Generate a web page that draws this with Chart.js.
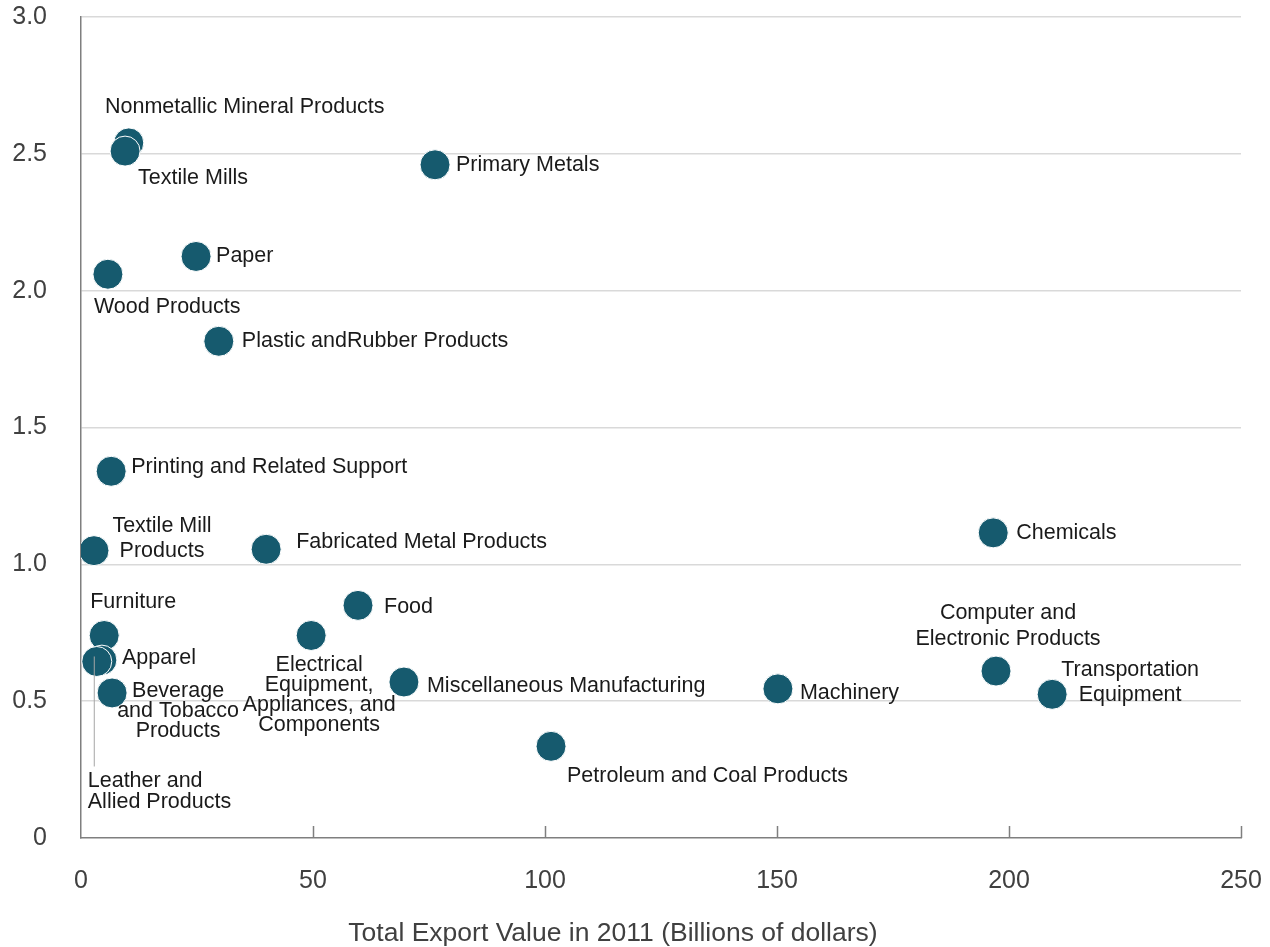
<!DOCTYPE html>
<html>
<head>
<meta charset="utf-8">
<script src="https://cdn.jsdelivr.net/npm/chart.js@4.4.0/dist/chart.umd.min.js"></script>
<style>
  html, body { margin: 0; padding: 0; background: #fff; }
  #wrap { width: 1270px; height: 947px; }
</style>
</head>
<body>
<div id="wrap"><canvas id="scatter"></canvas></div>
<script>
// industry names ("\n" = line break in the label)
const categories = [
  "Nonmetallic Mineral Products", "Textile Mills", "Primary Metals", "Paper",
  "Wood Products", "Plastic andRubber Products", "Printing and Related Support",
  "Textile Mill\nProducts", "Fabricated Metal Products", "Chemicals", "Food",
  "Furniture", "Electrical\nEquipment,\nAppliances, and\nComponents", "Apparel",
  "Leather and\nAllied Products", "Beverage\nand Tobacco\nProducts",
  "Miscellaneous Manufacturing", "Petroleum and Coal Products", "Machinery",
  "Computer and\nElectronic Products", "Transportation\nEquipment"
];
// total export value 2011, billions of dollars
const exportValues = [10.3, 9.5, 76.3, 24.8, 5.8, 29.7, 6.5, 2.8, 39.9, 196.6, 59.7,
  5.0, 49.6, 4.5, 3.4, 6.7, 69.6, 101.3, 150.2, 197.2, 209.3];
const ratioValues = [2.54, 2.51, 2.46, 2.125, 2.06, 1.815, 1.34, 1.05, 1.055, 1.115, 0.85,
  0.74, 0.74, 0.65, 0.645, 0.53, 0.57, 0.335, 0.545, 0.61, 0.525];
const xTicks = [0, 50, 100, 150, 200, 250];
const yTicks = [0, 0.5, 1.0, 1.5, 2.0, 2.5, 3.0];
const xTitle = 'Total Export Value in 2011 (Billions of dollars)';

// label placement relative to each marker: [dx, dy of first line, align, line height]
const labelLayout = [
  [116, -36, "center", 21], [13, 27, "left", 21], [21, 0, "left", 21], [20, 0, "left", 21],
  [-14, 33, "left", 21], [23, 0, "left", 21], [20, -4, "left", 21],
  [68, -25, "center", 25], [30, -7, "left", 21], [23, 0, "left", 21], [26, 2, "left", 21],
  [29, -33, "center", 21], [8, 30, "center", 20], [20, -2, "left", 21],
  [-9, 120, "left", 21], [66, -2, "center", 20],
  [23, 4, "left", 21], [16, 30, "left", 21], [22, 4, "left", 21],
  [12, -58, "center", 26], [78, -24, "center", 25]
];
const LEATHER = 14;

const points = exportValues.map((x, i) => ({ x: x, y: ratioValues[i] }));

const labelPlugin = {
  id: 'pointLabels',
  afterDatasetsDraw(chart) {
    const ctx = chart.ctx;
    const meta = chart.getDatasetMeta(0);
    const xs = chart.scales.x, area = chart.chartArea;
    ctx.save();
    // small tick marks standing on the x axis
    ctx.strokeStyle = '#7f7f7f';
    ctx.lineWidth = 1.5;
    xTicks.slice(1).forEach(v => {
      const px = Math.round(xs.getPixelForValue(v)) + 0.5;
      ctx.beginPath();
      ctx.moveTo(px, area.bottom);
      ctx.lineTo(px, area.bottom - 12);
      ctx.stroke();
    });
    // leader line for the leather label
    const lp = meta.data[LEATHER];
    ctx.strokeStyle = '#a6a6a6';
    ctx.lineWidth = 1;
    ctx.beginPath();
    ctx.moveTo(lp.x - 2.5, lp.y - 5);
    ctx.lineTo(lp.x - 2.5, lp.y + 105);
    ctx.stroke();

    ctx.font = '21.5px "Liberation Sans", Arial, sans-serif';
    ctx.fillStyle = '#1a1a1a';
    ctx.textBaseline = 'middle';
    categories.forEach((name, i) => {
      const el = meta.data[i];
      const [dx, dy, align, lh] = labelLayout[i];
      ctx.textAlign = align;
      name.split('\n').forEach((line, k) => {
        ctx.fillText(line, el.x + dx, el.y + dy + k * lh);
      });
    });

    // axis title sits left of the plot centre in the original
    ctx.font = '26.5px "Liberation Sans", Arial, sans-serif';
    ctx.fillStyle = '#404040';
    ctx.textAlign = 'center';
    ctx.fillText(xTitle, 613, area.bottom + 96);
    ctx.restore();
  }
};

new Chart(document.getElementById('scatter'), {
  type: 'scatter',
  data: {
    datasets: [{
      label: 'Industries',
      data: points,
      backgroundColor: '#165a6e',
      borderColor: '#ffffff',
      borderWidth: 1,
      pointRadius: 15,
      pointHoverRadius: 15
    }]
  },
  plugins: [labelPlugin],
  options: {
    responsive: true,
    maintainAspectRatio: false,
    animation: false,
    layout: { autoPadding: false, padding: { top: 17, right: 29, left: 0, bottom: 0 } },
    plugins: {
      legend: { display: false },
      tooltip: { enabled: false }
    },
    scales: {
      x: {
        type: 'linear',
        min: 0,
        max: 250,
        afterBuildTicks: s => { s.ticks = xTicks.map(v => ({ value: v })); },
        afterFit: s => { s.height = 109; s.paddingLeft = 0; s.paddingRight = 0; },
        grid: { display: false, drawTicks: false },
        border: { display: true, color: '#7f7f7f', width: 1.5 },
        ticks: {
          padding: 28,
          color: '#404040',
          font: { family: '"Liberation Sans", Arial, sans-serif', size: 25 }
        },
        title: { display: false }
      },
      y: {
        min: 0,
        max: 3,
        afterBuildTicks: s => { s.ticks = yTicks.map(v => ({ value: v })); },
        afterFit: s => { s.width = 81; s.paddingTop = 0; s.paddingBottom = 0; },
        grid: {
          color: ctx => ctx.tick && ctx.tick.value === 0 ? 'rgba(0,0,0,0)' : '#d9d9d9',
          lineWidth: 1.5,
          drawTicks: false
        },
        border: { display: true, color: '#7f7f7f', width: 1.5 },
        ticks: {
          padding: 34,
          color: '#404040',
          font: { family: '"Liberation Sans", Arial, sans-serif', size: 25 },
          callback: v => v === 0 ? '0' : v.toFixed(1)
        }
      }
    }
  }
});
</script>
</body>
</html>
